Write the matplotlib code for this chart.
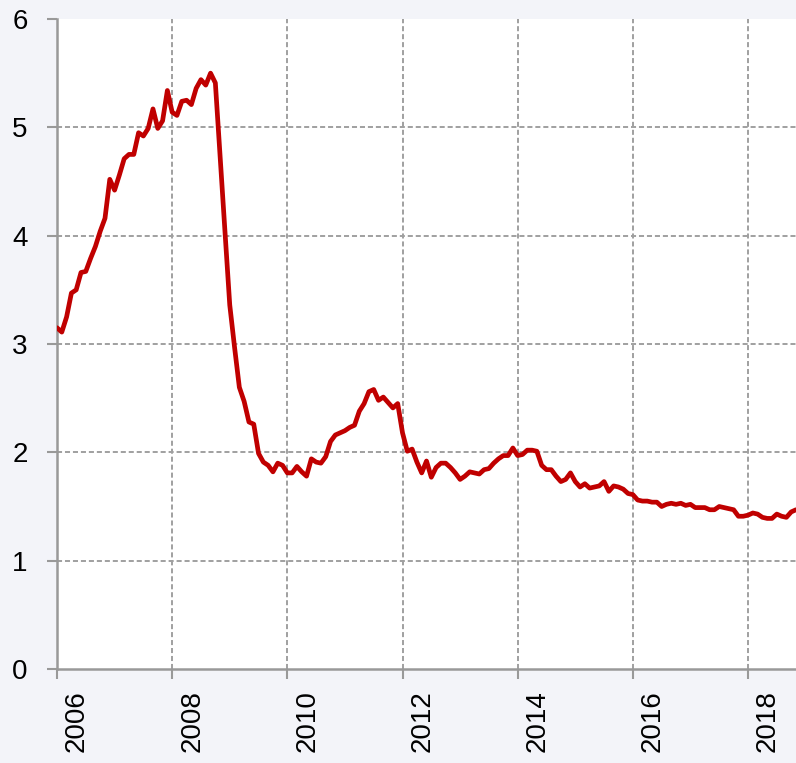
import matplotlib
matplotlib.use("Agg")
import matplotlib.pyplot as plt
import matplotlib.transforms as mtransforms
import numpy as np

plt.rcParams['font.family'] = ['Liberation Sans', 'DejaVu Sans']

start_year = 2006
values = [
    # 2006
    3.15, 3.11, 3.25, 3.47, 3.50, 3.66, 3.67, 3.79, 3.90, 4.04, 4.16, 4.52,
    # 2007
    4.42, 4.56, 4.71, 4.75, 4.75, 4.95, 4.92, 4.99, 5.17, 4.99, 5.06, 5.34,
    # 2008
    5.14, 5.11, 5.24, 5.25, 5.21, 5.36, 5.44, 5.39, 5.50, 5.41, 4.72, 4.04,
    # 2009
    3.36, 2.97, 2.60, 2.47, 2.28, 2.26, 1.99, 1.91, 1.88, 1.82, 1.90, 1.88,
    # 2010
    1.81, 1.81, 1.87, 1.82, 1.78, 1.94, 1.91, 1.90, 1.96, 2.10, 2.16, 2.18,
    # 2011
    2.20, 2.23, 2.25, 2.38, 2.45, 2.56, 2.58, 2.48, 2.51, 2.46, 2.41, 2.45,
    # 2012
    2.18, 2.01, 2.03, 1.91, 1.81, 1.92, 1.77, 1.86, 1.90, 1.90, 1.86, 1.81,
    # 2013
    1.75, 1.78, 1.82, 1.81, 1.80, 1.84, 1.85, 1.90, 1.94, 1.97, 1.97, 2.04,
    # 2014
    1.97, 1.98, 2.02, 2.02, 2.01, 1.88, 1.84, 1.84, 1.78, 1.73, 1.75, 1.81,
    # 2015
    1.73, 1.68, 1.71, 1.67, 1.68, 1.69, 1.73, 1.64, 1.69, 1.68, 1.66, 1.62,
    # 2016
    1.61, 1.56, 1.55, 1.55, 1.54, 1.54, 1.50, 1.52, 1.53, 1.52, 1.53, 1.51,
    # 2017
    1.52, 1.49, 1.49, 1.49, 1.47, 1.47, 1.50, 1.49, 1.48, 1.47, 1.41, 1.41,
    # 2018
    1.42, 1.44, 1.43, 1.40, 1.39, 1.39, 1.43, 1.41, 1.40, 1.45, 1.47,
]
x_ticks = [2006, 2008, 2010, 2012, 2014, 2016, 2018]
x_tick_labels = ["2006", "2008", "2010", "2012", "2014", "2016", "2018"]
y_ticks = [0, 1, 2, 3, 4, 5, 6]

x = start_year + np.arange(len(values)) / 12.0

fig = plt.figure(figsize=(7.96, 7.63), dpi=100, facecolor='#f3f4f9')
ax = fig.add_axes([57/796, 1 - 669/763, 1 - 57/796, (669 - 19)/763])
ax.set_facecolor('white')

ax.plot(x, values, color='#c00000', lw=3.4, solid_joinstyle='round',
        solid_capstyle='round', zorder=3)

ax.set_xlim(2006, 2018 + 10/12)
ax.set_ylim(0, 6)
ax.set_xticks(x_ticks)
ax.set_xticklabels([])
ax.set_yticks(y_ticks)
ax.set_yticklabels([str(v) for v in y_ticks], fontsize=20)

# x tick labels, rotated and shifted right of the tick as in the reference
trans = mtransforms.blended_transform_factory(ax.transData, ax.transAxes)
offset = mtransforms.ScaledTranslation(7/100, -21/100, fig.dpi_scale_trans)
for xv, lab in zip(x_ticks, x_tick_labels):
    ax.text(xv, 0, lab, rotation=90, ha='left', va='top', fontsize=20,
            transform=trans + offset, clip_on=False)

for s in ['top', 'right']:
    ax.spines[s].set_visible(False)
for s in ['left', 'bottom']:
    ax.spines[s].set_color('#999999')
    ax.spines[s].set_linewidth(1.8)

ax.tick_params(axis='both', direction='out', length=7, width=1.5, color='#999999')
ax.tick_params(axis='y', pad=14)

grid_kw = dict(color='#a0a0a0', lw=1.4, ls=(0, (2.6, 1.5)), zorder=1)
for yv in y_ticks[1:-1]:
    ax.axhline(yv, **grid_kw)
for xv in x_ticks[1:]:
    ax.axvline(xv, **grid_kw)

fig.savefig('out.png', dpi=100, facecolor=fig.get_facecolor())
